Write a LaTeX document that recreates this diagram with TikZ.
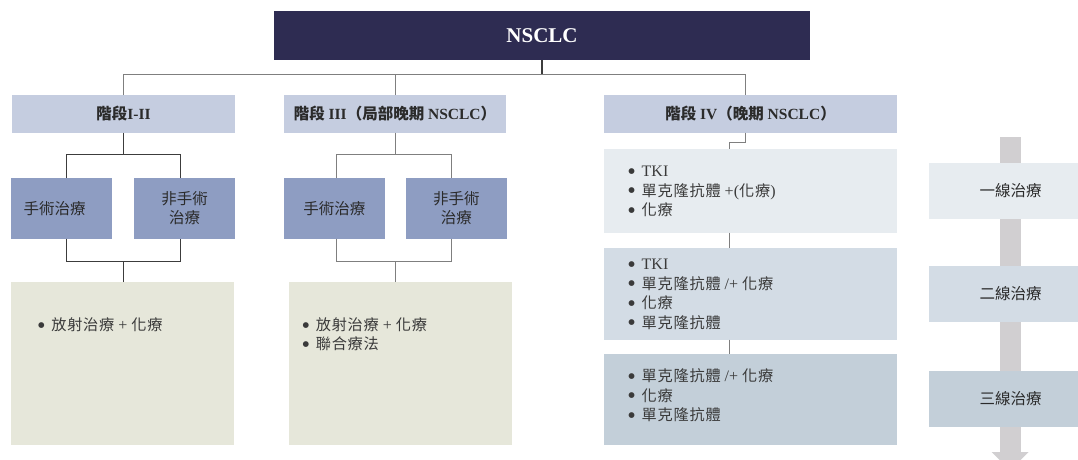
\documentclass[tikz,border=0pt]{standalone}
\usepackage{fontspec}
\setmainfont{Liberation Serif}
\newfontfamily\cj{Noto Sans CJK TC}
\newfontfamily\cjl[Scale=0.95,LetterSpace=5]{Noto Sans CJK TC}
\newfontfamily\dvs{DejaVu Sans}
\usetikzlibrary{calc}
\definecolor{rootc}{HTML}{2E2C52}
\definecolor{stagec}{HTML}{C5CDE0}
\definecolor{subc}{HTML}{8E9DC2}
\definecolor{beigec}{HTML}{E6E7DA}
\definecolor{lineA}{HTML}{E7ECF0}
\definecolor{lineB}{HTML}{D3DCE5}
\definecolor{lineC}{HTML}{C3CFD9}
\definecolor{arrowc}{HTML}{D1CFD1}
\definecolor{dkline}{HTML}{3C3C3C}
\definecolor{grline}{HTML}{7F7F7F}
\definecolor{txt}{HTML}{2B2B2B}
\definecolor{btxt}{HTML}{3A3A3A}
\newcommand{\bulx}{\makebox[13.3pt][l]{\raisebox{3.4pt}{\dvs\fontsize{7.5}{0}\selectfont ●}}}
\begin{document}
\begin{tikzpicture}[x=1pt,y=-1pt,
  boxst/.style={inner sep=0pt,outer sep=0pt,align=center,text=txt},
  stagest/.style={boxst,fill=stagec,minimum height=37.7pt,font=\fontsize{15.5}{18}\selectfont},
  subst/.style={boxst,fill=subc,minimum width=100.7pt,minimum height=60.7pt,font=\fontsize{15.5}{19}\selectfont},
  listst/.style={inner sep=0pt,outer sep=0pt,align=left,anchor=west,text=btxt,font=\fontsize{16}{19.5}\selectfont},
  rightst/.style={boxst,minimum width=163pt,minimum height=56pt,font=\fontsize{15.5}{19}\selectfont},
  dk/.style={draw=dkline,line width=0.9pt},
  gr/.style={draw=grline,line width=0.9pt}]
\useasboundingbox (0,0) rectangle (1078,459);
\clip (0,0) rectangle (1078,459);

% arrow (behind)
\fill[arrowc] (1000,136.7) rectangle (1020.7,452);
\fill[arrowc] (991.7,452) -- (1028.7,452) -- (1010.2,470.5) -- cycle;

% root
\node[boxst,fill=rootc,minimum width=536pt,minimum height=49pt,text=white,font=\fontsize{21}{24}\selectfont\bfseries] (root) at (542,35.5) {NSCLC};

% stages
\node[stagest,minimum width=223pt] (s1) at (123.5,113.85) {{\cj\bfseries 階段}\textbf{I-II}};
\node[stagest,minimum width=222pt] (s3) at (395,113.85) {{\cj\bfseries 階段} \textbf{III}{\cj\bfseries （局部晚期} \textbf{NSCLC}{\cj\bfseries ）}};
\node[stagest,minimum width=293pt] (s4) at (750.5,113.85) {{\cj\bfseries 階段} \textbf{IV}{\cj\bfseries （晚期} \textbf{NSCLC}{\cj\bfseries ）}};

% sub boxes
\node[subst] (a1) at (61.35,208.35) {{\cj 手術治療}\hspace*{13.6pt}};
\node[subst,minimum width=101pt] (b1) at (184.5,208.35) {{\cj 非手術}\\{\cj 治療}};
\node[subst] (a3) at (334.3,208.35) {{\cj 手術治療}};
\node[subst,minimum width=100.5pt] (b3) at (456.25,208.35) {{\cj 非手術}\\{\cj 治療}};

% bottom boxes
\node[boxst,fill=beigec,minimum width=222.8pt,minimum height=162.7pt] (c1) at (122.4,363.35) {};
\node[boxst,fill=beigec,minimum width=223.4pt,minimum height=162.7pt] (c3) at (400.3,363.35) {};

% stage IV lines
\node[boxst,fill=lineA,minimum width=292.7pt,minimum height=83.7pt] (l1) at (750.35,190.85) {};
\node[boxst,fill=lineB,minimum width=292.7pt,minimum height=91.7pt] (l2) at (750.35,293.65) {};
\node[boxst,fill=lineC,minimum width=292.7pt,minimum height=90.6pt] (l3) at (750.35,399.5) {};

% right labels
\node[rightst,fill=lineA] (r1) at (1010.5,190.85) {{\cj 一線治療}};
\node[rightst,fill=lineB] (r2) at (1010.5,293.7) {{\cj 二線治療}};
\node[rightst,fill=lineC] (r3) at (1010.5,398.7) {{\cj 三線治療}};

% lists
\node[listst] (t1) at (38,325) {\bulx{\cjl 放射治療} + {\cjl 化療}};
\node[listst] (t3) at (302.5,334.5) {\bulx{\cjl 放射治療} + {\cjl 化療}\\\bulx{\cjl 聯合療法}};
\node[listst] (u1) at (628.4,191.7) {\bulx TKI\\\bulx{\cjl 單克隆抗體} +({\cjl 化療})\\\bulx{\cjl 化療}};
\node[listst] (u2) at (628.4,294.5) {\bulx TKI\\\bulx{\cjl 單克隆抗體} /+ {\cjl 化療}\\\bulx{\cjl 化療}\\\bulx{\cjl 單克隆抗體}};
\node[listst] (u3) at (628.4,395.5) {\bulx{\cjl 單克隆抗體} /+ {\cjl 化療}\\\bulx{\cjl 化療}\\\bulx{\cjl 單克隆抗體}};

% connectors
\coordinate (busR) at (745.7,74);
\coordinate (s4in) at (745.7,95);
\draw[gr] (s1.north) |- (busR) -- (s4in);
\draw[gr] (s3.north) -- (s3.north |- busR);
\draw[dkline,line width=1.8pt] (root.south) -- (root.south |- busR);

% stage I-II
\coordinate (k1L) at (66.3,154.3);
\coordinate (k1R) at (180.3,154.3);
\coordinate (j1L) at (66.3,261.7);
\coordinate (j1R) at (180.3,261.7);
\draw[dk] (s1.south) -- (s1.south |- k1L);
\draw[dk] (a1.north -| k1L) |- (k1R) -- (b1.north -| k1R);
\draw[dk] (a1.south -| j1L) |- (j1R) -- (b1.south -| j1R);
\draw[dk] (c1.north -| s1.south) -- (s1.south |- j1L);

% stage III
\coordinate (k3L) at (336.4,154.3);
\coordinate (k3R) at (451,154.3);
\coordinate (j3L) at (336.4,261.7);
\coordinate (j3R) at (451,261.7);
\draw[gr] (s3.south) -- (s3.south |- k3L);
\draw[gr] (a3.north -| k3L) |- (k3R) -- (b3.north -| k3R);
\draw[gr] (a3.south -| j3L) |- (j3R) -- (b3.south -| j3R);
\draw[gr] (c3.north -| s3.south) -- (s3.south |- j3L);

% stage IV
\coordinate (s4out) at (745.7,132.7);
\coordinate (l1in) at (729,149);
\draw[gr] (s4out) -- ++(0,9.6) -| (l1in);
\draw[gr] (l1.south -| l1in) -- (l2.north -| l1in);
\draw[gr] (l2.south -| l1in) -- (l3.north -| l1in);
\end{tikzpicture}
\end{document}
